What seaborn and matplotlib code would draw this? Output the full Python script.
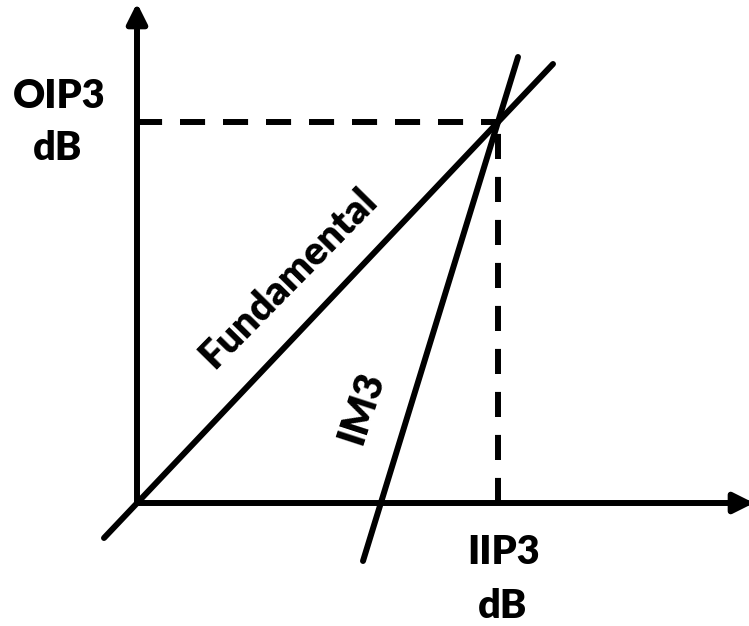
import pandas as pd
import matplotlib.pyplot as plt
import seaborn as sns

# 数据（单位：图上的 dB 刻度，原点为坐标轴交点）
fund_in = [-33, 416]
fund_out = [-35, 439]
im3_in = [226, 381]
im3_out = [-58, 446]
iip3 = 361
oip3 = 381
x_axis_end = 617
y_axis_end = 500

fund_df = pd.DataFrame({'Pin': fund_in, 'Pout': fund_out, 'curve': 'Fundamental'})
im3_df = pd.DataFrame({'Pin': im3_in, 'Pout': im3_out, 'curve': 'IM3'})
data = pd.concat([fund_df, im3_df])

sns.set_theme(style='white')
plt.rcParams['font.family'] = ['Lato', 'DejaVu Sans']

fig = plt.figure(figsize=(7.49, 6.26), dpi=100)
ax = fig.add_axes([0, 0, 1, 1])

lw = 4.3

# 两条直线
sns.lineplot(data=data, x='Pin', y='Pout', units='curve', estimator=None,
             color='black', linewidth=lw, sort=False, ax=ax, legend=False)

# 虚线
ax.plot([0, iip3], [oip3, oip3], color='black', linewidth=lw, dashes=(4.2, 3.0))
ax.plot([iip3, iip3], [0, oip3], color='black', linewidth=lw, dashes=(4.2, 3.0))

# 坐标轴箭头
arrow = dict(arrowstyle='-|>,head_length=0.6,head_width=0.3', color='black',
             lw=lw, shrinkA=0, shrinkB=0, mutation_scale=20)
ax.annotate('', xy=(x_axis_end, 0), xytext=(0, 0), arrowprops=arrow,
            annotation_clip=False)
ax.annotate('', xy=(0, y_axis_end), xytext=(0, 0), arrowprops=arrow,
            annotation_clip=False)

# 文字
txt = dict(fontsize=28.5, fontweight='heavy', color='black', ha='center', va='center')
ax.text(-78, 406, 'OIP3', **txt)
ax.text(-79, 354, 'dB', **txt)
ax.text(367, -49, 'IIP3', **txt)
ax.text(366, -103, 'dB', **txt)
ax.text(151, 225, 'Fundamental', rotation=45.5, **txt)
ax.text(225, 95, 'IM3', rotation=72, **txt)

ax.set_xlim(-137, 612)
ax.set_ylim(-123, 503)
ax.axis('off')

plt.savefig('out.png', dpi=100)
